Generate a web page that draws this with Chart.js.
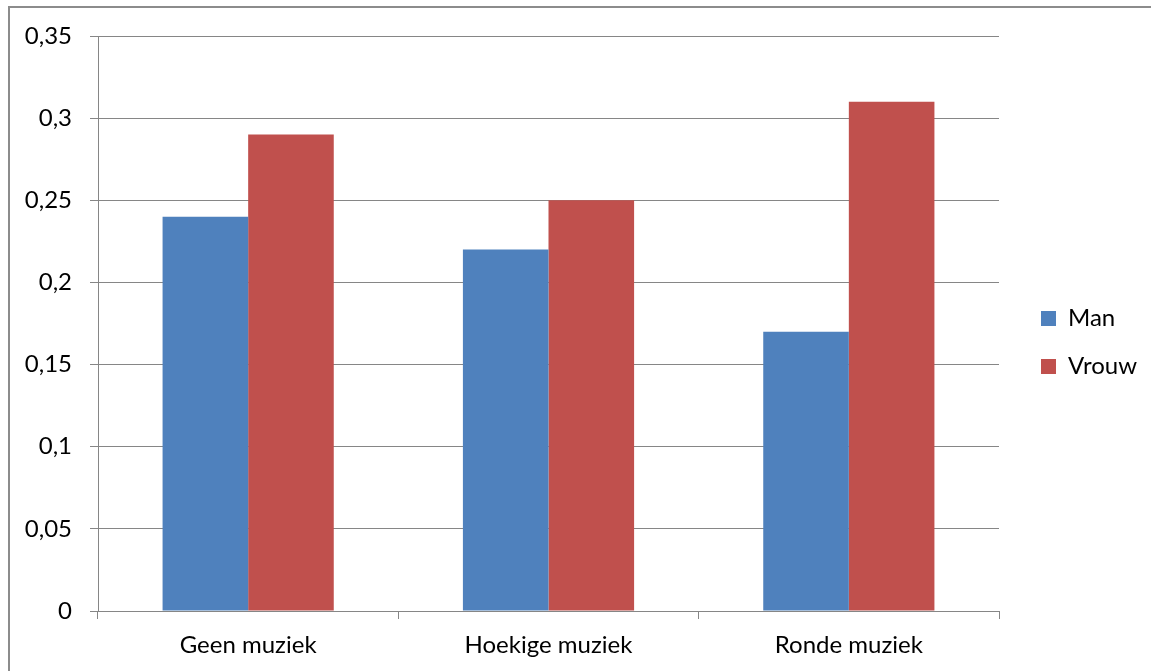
<!DOCTYPE html>
<html>
<head>
<meta charset="utf-8">
<title>Man / Vrouw per muziektype</title>
<script src="https://cdn.jsdelivr.net/npm/chart.js@4/dist/chart.umd.min.js"></script>
<style>
  html, body { margin: 0; padding: 0; background: #fff; overflow: hidden; }
  #wrap { position: relative; width: 1151px; height: 671px; }
  #frame {
    position: absolute; left: 8px; top: 6px; width: 1200px; height: 700px;
    border: 2px solid #8c8c8c; box-sizing: border-box; pointer-events: none;
  }
  canvas { position: absolute; left: 0; top: 0; }
</style>
</head>
<body>
<div id="wrap">
  <div id="frame"></div>
  <canvas id="chart" width="1151" height="671"></canvas>
</div>
<script>
const categories = ['Geen muziek', 'Hoekige muziek', 'Ronde muziek'];
const seriesNames = ['Man', 'Vrouw'];
const manValues = [0.24, 0.22, 0.17];
const vrouwValues = [0.29, 0.25, 0.31];
const yTickLabels = ['0', '0,05', '0,1', '0,15', '0,2', '0,25', '0,3', '0,35'];

const FONT = { family: 'Lato, "Liberation Sans", sans-serif', size: 24 };
const GRID = '#868686';

// Keeps the right-hand legend a fixed width and nudges its items
// away from the plot edge.
const legendSpacing = {
  id: 'legendSpacing',
  beforeLayout(chart, _args, opts) {
    const lg = chart.legend;
    if (!lg || lg._spacingWrapped) return;
    const fit = lg.fit;
    lg.fit = function () {
      fit.apply(this, arguments);
      this.width = opts.width;
    };
    lg._spacingWrapped = true;
  },
  afterLayout(chart, _args, opts) {
    const lg = chart.legend;
    if (!lg) return;
    lg.left += opts.inset;
    lg.top += opts.dy;
    lg.bottom += opts.dy;
  }
};

new Chart(document.getElementById('chart'), {
  type: 'bar',
  data: {
    labels: categories,
    datasets: [
      { label: seriesNames[0], data: manValues, backgroundColor: '#4F81BD', borderWidth: 0 },
      { label: seriesNames[1], data: vrouwValues, backgroundColor: '#C0504D', borderWidth: 0 }
    ]
  },
  plugins: [legendSpacing],
  options: {
    responsive: false,
    animation: false,
    maintainAspectRatio: false,
    datasets: { bar: { categoryPercentage: 0.57, barPercentage: 1.0 } },
    layout: { padding: { top: 36, bottom: 0, left: 0, right: 0 } },
    plugins: {
      legendSpacing: { width: 152, inset: 18, dy: -11 },
      tooltip: { enabled: false },
      legend: {
        position: 'right',
        fullSize: true,
        labels: {
          boxWidth: 15,
          boxHeight: 15,
          padding: 24,
          color: '#000',
          font: FONT
        }
      }
    },
    scales: {
      x: {
        offset: true,
        grid: {
          offset: true,
          drawOnChartArea: false,
          drawTicks: true,
          tickLength: 8,
          color: GRID,
          lineWidth: 1
        },
        border: { display: true, color: GRID, width: 1 },
        ticks: { color: '#000', font: FONT, padding: 12, maxRotation: 0 },
        afterFit(scale) { scale.height = 60; }
      },
      y: {
        min: 0,
        max: 0.35,
        ticks: {
          stepSize: 0.05,
          color: '#000',
          font: FONT,
          padding: 18,
          callback: (value, index) => yTickLabels[index]
        },
        grid: { color: GRID, lineWidth: 1, tickLength: 8, drawTicks: true },
        border: { display: true, color: GRID, width: 1 },
        afterFit(scale) { scale.width = 98; }
      }
    }
  }
});
</script>
</body>
</html>
